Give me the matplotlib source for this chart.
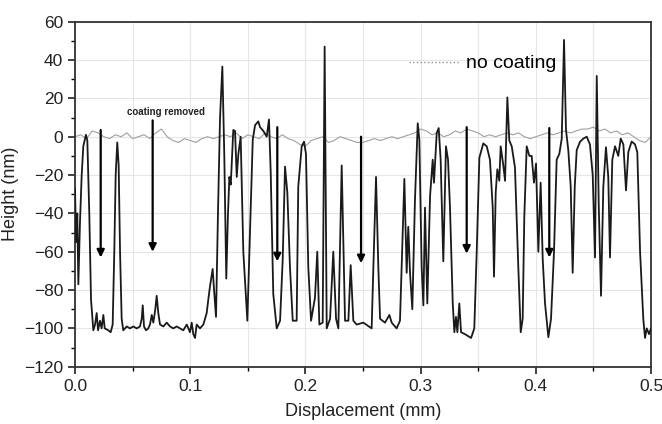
import matplotlib
matplotlib.use('Agg')
import matplotlib.pyplot as plt
from matplotlib.lines import Line2D
from matplotlib.ticker import MultipleLocator

plt.rcParams['font.family'] = ['Liberation Sans', 'DejaVu Sans']

# coated profile: displacement (mm), height (nm)
disp = [0.0000, 0.0009, 0.0020, 0.0029, 0.0043, 0.0058, 0.0072, 0.0095, 0.0107, 0.0124,
        0.0139, 0.0159, 0.0174, 0.0188, 0.0200, 0.0217, 0.0231, 0.0246, 0.0258, 0.0289,
        0.0310, 0.0327, 0.0341, 0.0353, 0.0367, 0.0379, 0.0391, 0.0405, 0.0419, 0.0449,
        0.0477, 0.0506, 0.0536, 0.0564, 0.0579, 0.0588, 0.0599, 0.0616, 0.0636, 0.0651,
        0.0666, 0.0680, 0.0697, 0.0709, 0.0723, 0.0738, 0.0767, 0.0796, 0.0825, 0.0853,
        0.0883, 0.0911, 0.0940, 0.0970, 0.0998, 0.1013, 0.1027, 0.1042, 0.1056, 0.1085,
        0.1114, 0.1128, 0.1143, 0.1157, 0.1172, 0.1187, 0.1195, 0.1207, 0.1224, 0.1241,
        0.1259, 0.1279, 0.1296, 0.1313, 0.1328, 0.1340, 0.1352, 0.1374, 0.1389, 0.1404,
        0.1418, 0.1438, 0.1461, 0.1496, 0.1519, 0.1543, 0.1563, 0.1591, 0.1606, 0.1635,
        0.1664, 0.1684, 0.1699, 0.1721, 0.1751, 0.1780, 0.1803, 0.1823, 0.1843, 0.1866,
        0.1890, 0.1924, 0.1938, 0.1968, 0.1988, 0.2005, 0.2025, 0.2049, 0.2083, 0.2103,
        0.2121, 0.2150, 0.2167, 0.2185, 0.2214, 0.2242, 0.2266, 0.2286, 0.2315, 0.2344,
        0.2373, 0.2393, 0.2416, 0.2445, 0.2503, 0.2575, 0.2590, 0.2613, 0.2633, 0.2648,
        0.2691, 0.2729, 0.2749, 0.2792, 0.2821, 0.2859, 0.2879, 0.2893, 0.2908, 0.2928,
        0.2951, 0.2975, 0.2989, 0.3009, 0.3024, 0.3038, 0.3058, 0.3082, 0.3105, 0.3116,
        0.3140, 0.3157, 0.3174, 0.3197, 0.3220, 0.3238, 0.3255, 0.3279, 0.3293, 0.3307,
        0.3319, 0.3336, 0.3351, 0.3385, 0.3438, 0.3466, 0.3487, 0.3510, 0.3544, 0.3574,
        0.3602, 0.3626, 0.3637, 0.3652, 0.3666, 0.3683, 0.3695, 0.3718, 0.3733, 0.3753,
        0.3770, 0.3791, 0.3819, 0.3848, 0.3869, 0.3886, 0.3900, 0.3921, 0.3944, 0.3964,
        0.3984, 0.4002, 0.4022, 0.4042, 0.4060, 0.4080, 0.4109, 0.4132, 0.4158, 0.4181,
        0.4204, 0.4225, 0.4245, 0.4262, 0.4282, 0.4303, 0.4320, 0.4338, 0.4355, 0.4384,
        0.4412, 0.4442, 0.4470, 0.4494, 0.4514, 0.4529, 0.4546, 0.4566, 0.4586, 0.4609,
        0.4629, 0.4644, 0.4664, 0.4688, 0.4716, 0.4737, 0.4760, 0.4783, 0.4803, 0.4832,
        0.4861, 0.4881, 0.4905, 0.4933, 0.4948, 0.4963, 0.4983, 0.5000]
height = [-27, -55, -40, -77, -45, -20, -5, 1, -2, -40,
          -85, -101, -98, -92, -101, -96, -100, -93, -100, -101,
          -102, -98, -60, -20, -3, -15, -60, -95, -101, -99,
          -100, -99, -100, -99, -95, -88, -99, -101, -100, -98,
          -93, -97, -90, -83, -92, -98, -99, -97, -99, -100,
          -99, -100, -101, -98, -102, -97, -103, -105, -98, -100,
          -98, -95, -92, -85, -78, -72, -69, -80, -94, -40,
          10, 36.6, -10, -74, -40, -21, -25, 3.5, 3, -21,
          -9, 0, -60, -96, -50, -1.5, 6, 8, 5, 3,
          0, 9, -19, -82, -100, -96, -64, -15.6, -29, -68,
          -96, -96, -26, -5, -2.6, -9, -68, -96, -84, -60,
          -98, -97, 47, -100, -95, -60, -95, -100, -15, -96,
          -96, -67, -96, -98, -97, -100, -68, -21, -68, -95,
          -97, -93, -97, -100, -96, -22, -71, -47, -71, -90,
          -33, 7, -1.6, -68, -88, -37, -87, -31, -12, -24,
          2, 4.5, -12, -65, -5, -12, -37, -87, -102, -94,
          -102, -87, -102, -103, -105, -100, -60, -11, -3.5, -5,
          -12, -37, -73, -29, -17, -23, -5, -15, -23, 20.5,
          -2, -5, -16, -68, -102, -95, -42, -5, -10, -10,
          -24, -14, -60, -24, -64, -87, -104.6, -95, -60, -12,
          -9, -1, 50.5, 3.5, -7, -26, -71, -26, -7, -2.6,
          -1, 0, -4, -20, -63, 31.7, -35, -83, -26, -5.5,
          -21, -63, -12, -5, -10, -1, -4, -28, -8, -2.5,
          -4, -8, -60, -95, -105, -100, -103, -100]

# uncoated reference profile
ref_disp = [0.000, 0.005, 0.010, 0.015, 0.020, 0.025, 0.030, 0.035, 0.040, 0.045,
            0.050, 0.055, 0.060, 0.065, 0.070, 0.075, 0.080, 0.085, 0.090, 0.095,
            0.100, 0.105, 0.110, 0.115, 0.120, 0.125, 0.130, 0.135, 0.140, 0.145,
            0.150, 0.155, 0.160, 0.165, 0.170, 0.175, 0.180, 0.185, 0.190, 0.195,
            0.200, 0.205, 0.210, 0.215, 0.220, 0.225, 0.230, 0.235, 0.240, 0.245,
            0.250, 0.255, 0.260, 0.265, 0.270, 0.275, 0.280, 0.285, 0.290, 0.295,
            0.300, 0.305, 0.310, 0.315, 0.320, 0.325, 0.330, 0.335, 0.340, 0.345,
            0.350, 0.355, 0.360, 0.365, 0.370, 0.375, 0.380, 0.385, 0.390, 0.395,
            0.400, 0.405, 0.410, 0.415, 0.420, 0.425, 0.430, 0.435, 0.440, 0.445,
            0.450, 0.455, 0.460, 0.465, 0.470, 0.475, 0.480, 0.485, 0.490, 0.495, 0.500]
ref_height = [0, 1, -1, 3, 2, 0, -1, 1, 0, 2,
              -1, 0, 1, -1, 2, 4, 0, -2, -3, -1,
              -2, -3, -1, 0, -1, 0, 1, 0, 2, -1,
              1, 0, -1, 2, 0, -1, 1, -1, -2, -4,
              -5, -2, -1, 0, -3, -2, 0, -1, -2, -3,
              -3, -2, -1, -2, -1, 0, -1, 0, 1, 2,
              4, 3, 1, 2, 0, 1, 3, 2, 4, 3,
              2, 0, 1, 0, 1, 2, 1, 2, 0, -1,
              0, 1, 2, 1, 2, 3, 2, 3, 4, 4,
              5, 3, 4, 2, 3, 1, 2, 0, -2, -3, 0]

# arrow x positions (mm)
arrow_x = [0.0223, 0.0674, 0.1756, 0.2483, 0.3400, 0.4117]
arrow_top = [3.5, 8.5, 5, 0, 5, 4.5]
arrow_tip = [-63, -60, -65, -66, -61, -63]

fig = plt.figure(figsize=(6.62, 4.24), dpi=100)
ax = fig.add_axes([0.1133, 0.1351, 0.8701, 0.8137])

ax.plot(ref_disp, ref_height, color='#a0a0a0', lw=0.8, zorder=2)
ax.plot(disp, height, color='#1a1a1a', lw=1.3, zorder=3)

for x, y0, y1 in zip(arrow_x, arrow_top, arrow_tip):
    ax.annotate('', xy=(x, y1), xytext=(x, y0),
                arrowprops=dict(arrowstyle='-|>', color='black', lw=1.6,
                                mutation_scale=11, shrinkA=0, shrinkB=0),
                zorder=4)

ax.text(0.079, 13, 'coating removed', fontsize=7, fontweight='bold',
        ha='center', va='center', color='#222222')

handle = Line2D([], [], color='#909090', ls=':', lw=1)
ax.legend([handle], ['no coating'], loc='upper left', bbox_to_anchor=(0.55, 0.955),
          frameon=False, fontsize=14, handlelength=2.6, handletextpad=0.3)

ax.set_xlim(0, 0.5)
ax.set_ylim(-120, 60)
ax.xaxis.set_major_locator(MultipleLocator(0.1))
ax.xaxis.set_minor_locator(MultipleLocator(0.05))
ax.yaxis.set_major_locator(MultipleLocator(20))
ax.yaxis.set_minor_locator(MultipleLocator(10))
ax.xaxis.set_major_formatter(plt.FormatStrFormatter('%.1f'))

ax.grid(True, which='major', color='#e6e6e6', lw=0.8, zorder=0)
ax.grid(True, which='minor', axis='x', color='#e6e6e6', lw=0.8, zorder=0)
ax.set_axisbelow(True)

ax.tick_params(which='major', direction='out', length=5, width=1.2, labelsize=12.5,
               colors='#222222')
ax.tick_params(which='minor', direction='out', length=3, width=1.0)
for s in ax.spines.values():
    s.set_linewidth(1.3)
    s.set_color('#333333')

ax.set_xlabel('Displacement (mm)', fontsize=13, color='#222222', labelpad=7)
ax.set_ylabel('Height (nm)', fontsize=13, color='#222222', labelpad=4)

fig.savefig('out.png', dpi=100)
